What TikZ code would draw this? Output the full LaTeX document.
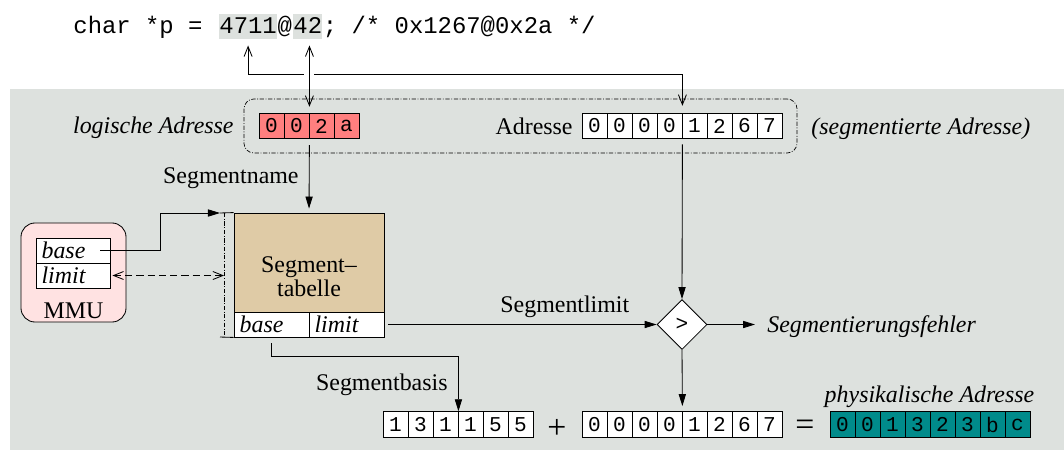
\documentclass[tikz,border=0pt]{standalone}
\usepackage{fontspec}
\setmainfont{Liberation Serif}
\setmonofont{Liberation Mono}
\usetikzlibrary{arrows.meta,shapes.geometric}

\definecolor{hintergrund}{RGB}{221,225,222}
\definecolor{logrot}{RGB}{255,127,127}
\definecolor{tabbraun}{RGB}{223,203,166}
\definecolor{mmurosa}{RGB}{255,226,226}
\definecolor{physgruen}{RGB}{0,139,139}

\begin{document}
\fontsize{17}{17}\selectfont
\begin{tikzpicture}[x=0.025cm,y=-0.025cm,line width=0.6pt]
\tikzstyle{zelle}=[draw,inner sep=0pt,minimum width=0.625cm,minimum height=0.64cm,font=\fontsize{15}{15}\ttfamily]
\tikzstyle{feld}=[draw,fill=white,inner xsep=0.14cm,inner ysep=0pt,text width=1.595cm,minimum height=0.625cm,font=\itshape]
\tikzstyle{code}=[inner sep=0pt,anchor=base west,font=\ttfamily]
\tikzstyle{marke}=[code,fill=hintergrund,text height=0.475cm,text depth=0.15cm]
\tikzstyle{beschr}=[inner sep=0pt]
\tikzstyle{rechnen}=[inner sep=0pt,font=\fontsize{24}{24}\selectfont]
\tikzstyle{pfeil}=[-{Triangle[length=0.3cm,width=0.18cm]}]
\tikzstyle{haken}=[{Straight Barb[length=0.25cm,width=0.2cm]}-{Straight Barb[length=0.25cm,width=0.2cm]}]
\tikzstyle{strichpunkt}=[line width=0.5pt,dash pattern=on 3pt off 1.2pt on 0.6pt off 1.2pt]

\useasboundingbox (0,0) rectangle (1064,450);
\fill[hintergrund] (10,89) rectangle (1064,450);

% Programmzeile
\node[code] (decl) at (73,33) {char *p =};
\node[marke] (seg) at (219,33) {4711};
\node[code] (klammeraffe) at (seg.base east) {@};
\node[marke] (off) at (293,33) {42};
\node[code] (kommentar) at (off.base east) {; /* 0x1267@0x2a */};

% Adressen
\node[draw,strichpunkt,rounded corners=0.25cm,minimum width=13.825cm,minimum height=1.35cm] (rahmen) at (520.5,126) {};
\foreach \z [count=\i] in {0,0,2,a}
  \node[zelle,fill=logrot] (log\i) at ({246.5+25*\i},126) {\z};
\foreach \z [count=\i] in {0,0,0,0,1,2,6,7}
  \node[zelle,fill=white] (adr\i) at ({569.5+25*\i},126) {\z};
\node[beschr,anchor=base east,font=\itshape] (loglabel) at (234,133) {logische Adresse};
\node[beschr,anchor=base east] (adrlabel) at (573,134) {Adresse};
\node[beschr,anchor=base west,font=\itshape] (seglabel) at (811,134) {(segmentierte Adresse)};

% Segmenttabelle
\node[draw,fill=tabbraun,minimum width=3.75cm,minimum height=2.475cm,inner sep=0pt] (segtab) at (309,262.5) {};
\node[beschr,align=center] (segtabname) at (309,277) {Segment--\\tabelle};
\node[feld] (tbase) at (271.5,324.5) {base};
\node[feld] (tlimit) at (346.5,324.5) {limit};
\coordinate (ko) at (220,213);
\coordinate (ku) at (220,337);
\draw (ko) -- (segtab.north west);
\draw (ku) -- (tbase.south west);
\draw[strichpunkt] ([xshift=0.1cm]ko) -- ([xshift=0.1cm]ku);

% MMU
\node[draw,fill=mmurosa,rounded corners=0.35cm,minimum width=2.625cm,minimum height=2.475cm] (mmu) at (73.5,272.5) {};
\node[feld,text width=1.57cm] (mmubase) at (73,250.5) {base};
\node[feld,text width=1.57cm] (mmulimit) at (73,275.5) {limit};
\node[beschr,anchor=base] (mmuname) at (73.5,318) {MMU};

% Vergleich
\node[draw,diamond,fill=white,minimum width=1.25cm,minimum height=1.25cm,inner sep=0pt,font=\fontsize{15}{15}\ttfamily] (cmp) at (682,324.5) {>};
\node[beschr,anchor=base west,font=\itshape] (fehler) at (767,332) {Segmentierungsfehler};

% Addition
\foreach \z [count=\i] in {1,3,1,1,5,5}
  \node[zelle,fill=white] (bas\i) at ({370.5+25*\i},424.5) {\z};
\foreach \z [count=\i] in {0,0,0,0,1,2,6,7}
  \node[zelle,fill=white] (dist\i) at ({569.5+25*\i},424.5) {\z};
\foreach \z [count=\i] in {0,0,1,3,2,3,b,c}
  \node[zelle,fill=physgruen] (phys\i) at ({817.5+25*\i},424.5) {\z};
\node[rechnen] (plus) at (557,429) {+};
\node[rechnen] (gleich) at (805,428) {=};
\node[beschr,anchor=base,font=\itshape] (physlabel) at (929.5,402) {physikalische Adresse};

% Verbindungen
\draw[haken,shorten <=0.15cm,shorten >=0.175cm] (seg.south) -- ++(0,35) -| (adr4.north east);
\draw[white,line width=0.25cm] (309,70) -- (309,78);
\draw[haken,shorten <=0.15cm,shorten >=0.15cm] (off.south -| log2.north east) -- (log2.north east);
\draw[pfeil,shorten <=0.15cm,shorten >=0.1cm] (log2.south east) -- (segtab.north);
\node[beschr,anchor=base east] (segname) at (299,183) {Segmentname};
\draw[pfeil,shorten <=0.13cm] (adr4.south east) -- (cmp.north);
\draw[pfeil] ([xshift=-0.25cm]mmubase.east) -- ++(60,0) |- (ko);
\draw[haken,dash pattern=on 5pt off 3pt,shorten <=0.05cm] (mmulimit.east) -- ([xshift=0.1cm]mmulimit.east -| ko);
\draw[pfeil] ([xshift=0.1cm]tlimit.east) -- (cmp.west);
\node[beschr,anchor=base west] (seglimit) at (500,312) {Segmentlimit};
\draw[pfeil] (cmp.east) -- ([xshift=-0.3cm]cmp.east -| fehler.west);
\draw[pfeil,shorten >=0.13cm] (cmp.south) -- (dist4.north east);
\draw[pfeil,shorten <=0.15cm] (tbase.south) -- ++(0,19) -| (bas3.north east);
\node[beschr,anchor=base east] (segbasis) at (448,390) {Segmentbasis};
\end{tikzpicture}
\end{document}
